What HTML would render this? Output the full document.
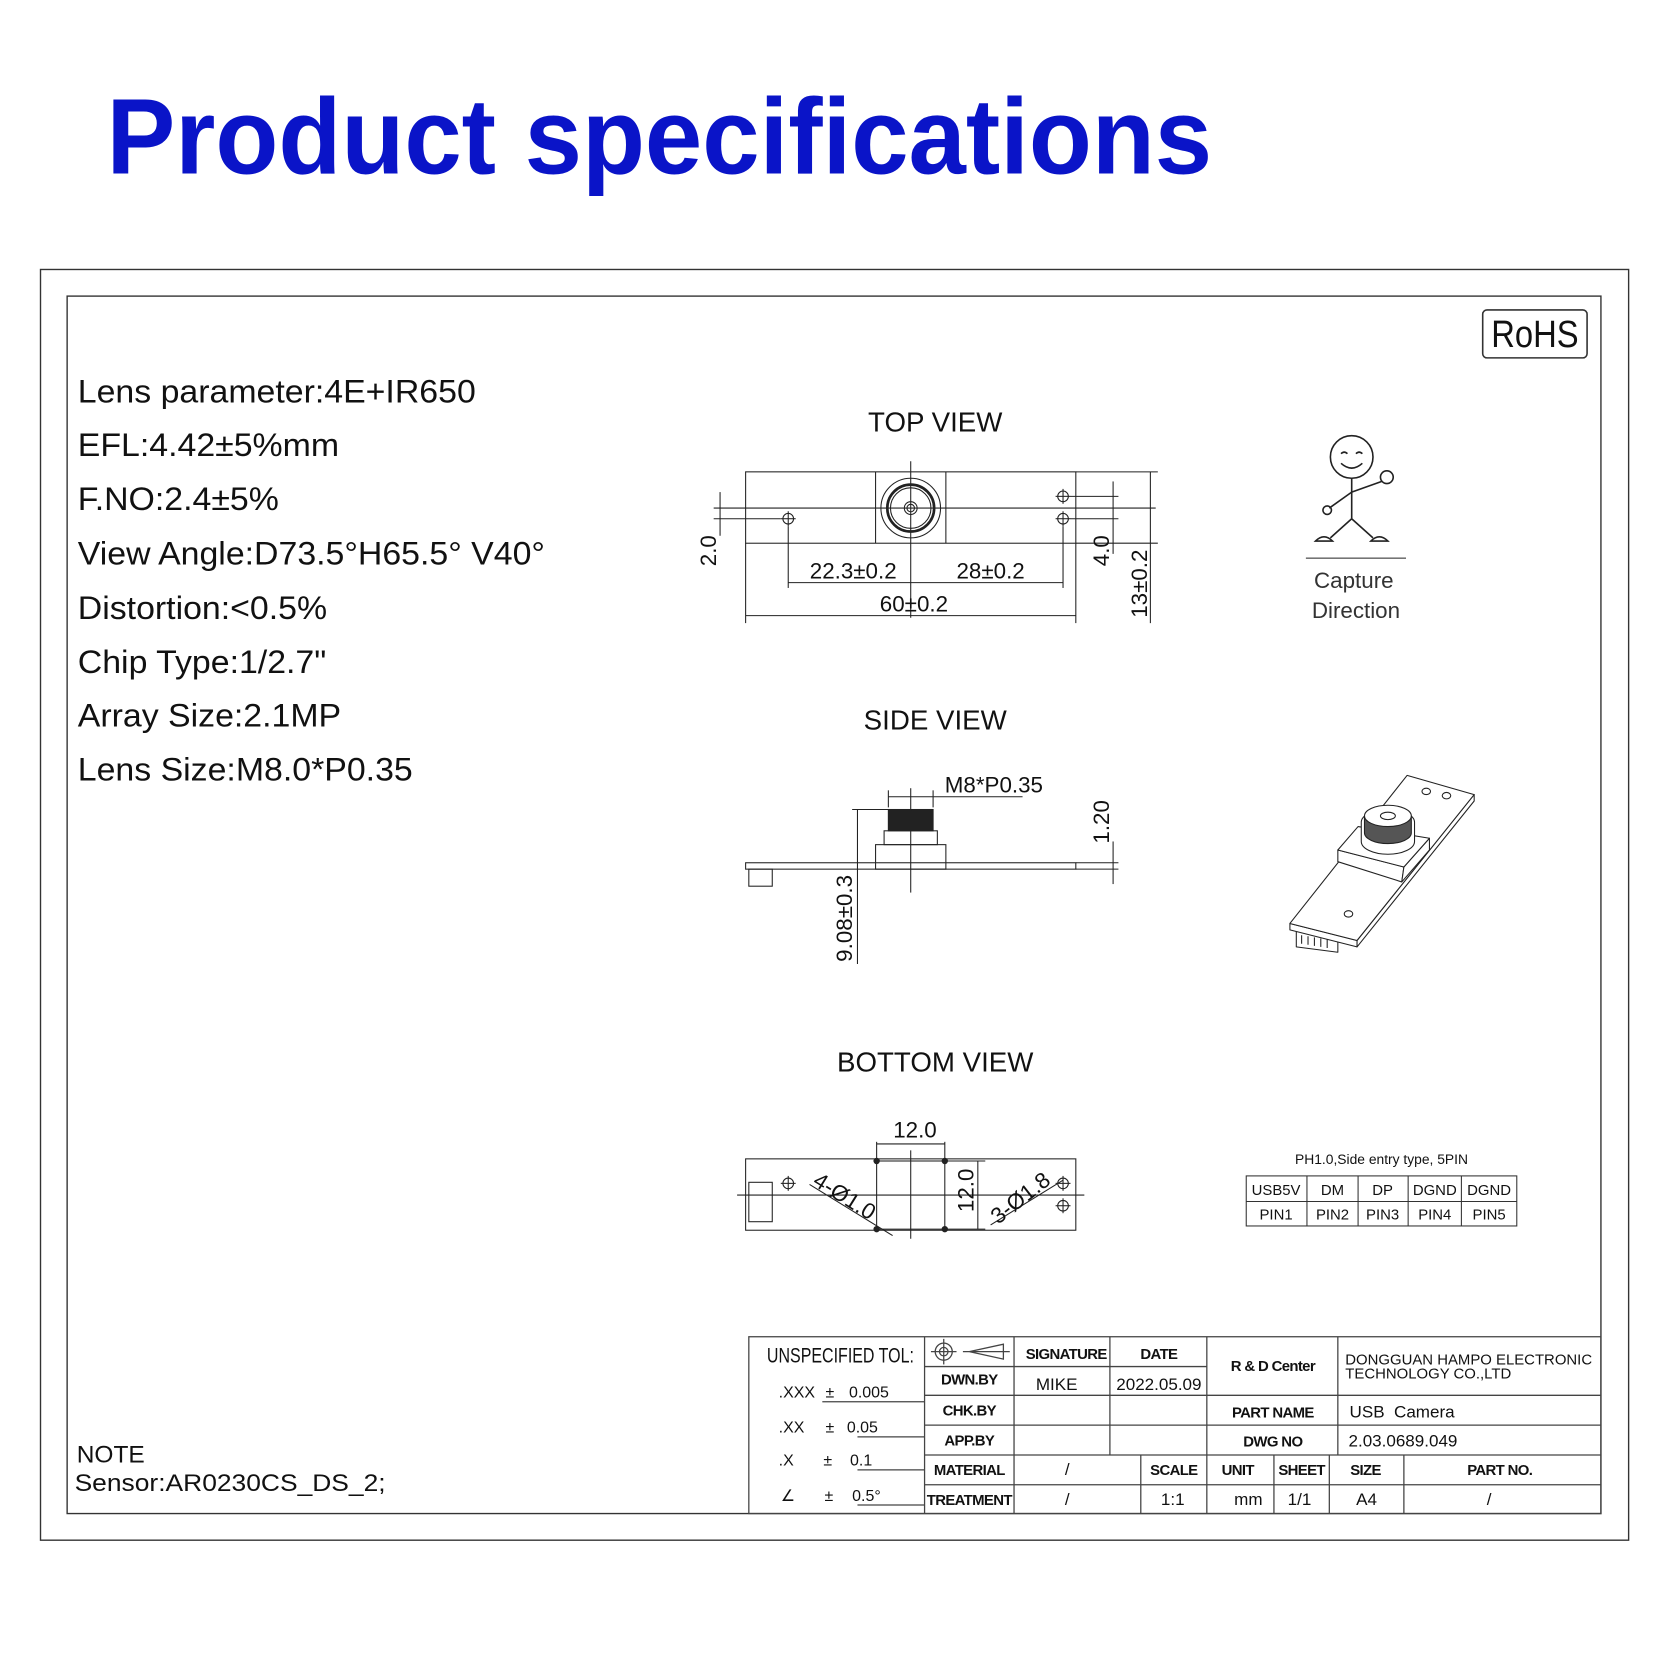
<!DOCTYPE html>
<html><head><meta charset="utf-8"><style>
html,body{margin:0;padding:0;background:#fff;}
svg{display:block;}
text{font-family:"Liberation Sans",sans-serif;fill:#111;}
</style></head><body>
<svg width="1667" height="1668" viewBox="0 0 1565 1566" xmlns="http://www.w3.org/2000/svg">
<rect width="1565" height="1566" fill="#fff"/>
<text x="100" y="163" font-size="101" font-weight="bold" style="fill:#0a14c8" textLength="1038" lengthAdjust="spacingAndGlyphs">Product specifications</text>

<g fill="none" stroke="#333" stroke-width="1.3">
<rect x="38" y="253" width="1491" height="1193"/>
<rect x="63" y="278" width="1440" height="1143"/>
<rect x="1392" y="291" width="98" height="45" rx="4" stroke-width="1.5"/>
</g>
<text x="1441" y="326" font-size="36" text-anchor="middle" textLength="82" lengthAdjust="spacingAndGlyphs">RoHS</text>

<g font-size="30" transform="translate(73 0) scale(1.06 1) translate(-73 0)">
<text x="73" y="378">Lens parameter:4E+IR650</text>
<text x="73" y="428">EFL:4.42±5%mm</text>
<text x="73" y="479">F.NO:2.4±5%</text>
<text x="73" y="530">View Angle:D73.5°H65.5° V40°</text>
<text x="73" y="581">Distortion:&lt;0.5%</text>
<text x="73" y="632">Chip Type:1/2.7"</text>
<text x="73" y="682">Array Size:2.1MP</text>
<text x="73" y="733">Lens Size:M8.0*P0.35</text>
</g>

<g font-size="26" text-anchor="middle">
<text x="878" y="405">TOP VIEW</text>
<text x="878" y="685">SIDE VIEW</text>
<text x="878" y="1006">BOTTOM VIEW</text>
</g>

<!-- TOP VIEW -->
<g fill="none" stroke="#222" stroke-width="1">
<rect x="700" y="443" width="310" height="67"/>
<line x1="822" y1="443" x2="822" y2="510"/><line x1="888" y1="443" x2="888" y2="510"/>
<circle cx="855" cy="477" r="28"/><circle cx="855" cy="477" r="22" stroke-width="2.5"/><circle cx="855" cy="477" r="19"/>
<circle cx="855" cy="477" r="6"/><circle cx="855" cy="477" r="3.5"/>
<line x1="670" y1="477" x2="1085" y2="477"/>
<line x1="855" y1="433" x2="855" y2="580"/>
<circle cx="740" cy="487" r="5"/><line x1="733" y1="487" x2="747" y2="487"/><line x1="740" y1="480" x2="740" y2="494"/>
<circle cx="998" cy="466" r="5"/><line x1="991" y1="466" x2="1005" y2="466"/><line x1="998" y1="459" x2="998" y2="473"/>
<circle cx="998" cy="487" r="5"/><line x1="991" y1="487" x2="1005" y2="487"/><line x1="998" y1="480" x2="998" y2="494"/>
<line x1="670" y1="487" x2="733" y2="487"/>
<line x1="676" y1="462" x2="676" y2="503"/>
<line x1="740" y1="494" x2="740" y2="552"/><line x1="998" y1="494" x2="998" y2="552"/>
<line x1="740" y1="547" x2="998" y2="547"/>
<line x1="700" y1="510" x2="700" y2="585"/><line x1="1010" y1="510" x2="1010" y2="585"/>
<line x1="700" y1="578" x2="1010" y2="578"/>
<line x1="1005" y1="466" x2="1050" y2="466"/><line x1="1005" y1="487" x2="1050" y2="487"/>
<line x1="1045" y1="452" x2="1045" y2="520"/>
<line x1="1010" y1="443" x2="1087" y2="443"/><line x1="1010" y1="510" x2="1087" y2="510"/>
<line x1="1080" y1="443" x2="1080" y2="585"/>
</g>
<g font-size="21" text-anchor="middle">
<text x="801" y="543">22.3±0.2</text><text x="930" y="543">28±0.2</text><text x="858" y="574">60±0.2</text>
<text transform="translate(672,517) rotate(-90)">2.0</text>
<text transform="translate(1041,517) rotate(-90)">4.0</text>
<text transform="translate(1077,548) rotate(-90)">13±0.2</text>
</g>

<!-- stick figure -->
<g fill="none" stroke="#222" stroke-width="1.5">
<circle cx="1269" cy="429" r="20"/>
<path d="M1259 426 q3 -3 6 0 M1273 426 q3 -3 6 0 M1259 435 q10 9 20 0"/>
<line x1="1269" y1="449" x2="1269" y2="487"/>
<line x1="1269" y1="487" x2="1249" y2="505"/><line x1="1269" y1="487" x2="1289" y2="505"/>
<line x1="1269" y1="462" x2="1297" y2="452"/><line x1="1269" y1="462" x2="1248" y2="477"/>
<circle cx="1302" cy="448" r="6"/><circle cx="1246" cy="479" r="4"/>
<path d="M1235 508 q8 -8 16 0 z M1287 508 q8 -8 16 0 z"/>
<line x1="1226" y1="524" x2="1320" y2="524" stroke-width="1"/>
</g>
<g font-size="21" text-anchor="middle"><text x="1271" y="552" style="fill:#333">Capture</text><text x="1273" y="580" style="fill:#333">Direction</text></g>

<!-- SIDE VIEW -->
<g fill="none" stroke="#222" stroke-width="1">
<rect x="700" y="810" width="310" height="6"/>
<rect x="703" y="816" width="22" height="16"/>
<rect x="822" y="793" width="66" height="23"/>
<rect x="830" y="780" width="50" height="13"/>
<rect x="834" y="760" width="42" height="20" fill="#222"/>
<line x1="855" y1="740" x2="855" y2="838"/>
<line x1="834" y1="742" x2="834" y2="758"/><line x1="876" y1="742" x2="876" y2="758"/>
<line x1="834" y1="748" x2="960" y2="748"/>
<line x1="800" y1="760" x2="834" y2="760"/>
<line x1="805" y1="760" x2="805" y2="905"/>
<line x1="1010" y1="810" x2="1050" y2="810"/><line x1="1010" y1="816" x2="1050" y2="816"/>
<line x1="1045" y1="790" x2="1045" y2="830"/>
</g>
<text x="887" y="744" font-size="21">M8*P0.35</text>
<text transform="translate(1041,792) rotate(-90)" font-size="21">1.20</text>
<text transform="translate(800,903) rotate(-90)" font-size="21">9.08±0.3</text>

<!-- 3D view -->
<g fill="#fff" stroke="#222" stroke-width="1" stroke-linejoin="round">
<polygon points="1217,874 1256,879 1256,894 1217,889"/>
<path d="M1222 878 l0 8 M1228 879 l0 8 M1234 880 l0 8 M1240 881 l0 8 M1246 882 l0 8" fill="none"/>
<polygon points="1384,746 1384,752 1274,889 1274,883"/>
<polygon points="1211,867 1211,873 1274,889 1274,883"/>
<polygon points="1321,728 1384,746 1274,883 1211,867"/>
<ellipse cx="1339" cy="743" rx="4" ry="3"/><ellipse cx="1358" cy="747" rx="4" ry="3"/>
<ellipse cx="1266" cy="858" rx="4" ry="3"/>
<polygon points="1256,798 1256,809 1316,828 1318,814"/>
<polygon points="1318,814 1316,828 1342,798 1342,787"/>
<polygon points="1256,798 1275,776 1342,787 1318,814"/>
<path d="M1278 790 L1278 772 A25 12 0 0 1 1328 772 L1328 790 A25 12 0 0 1 1278 790 Z"/>
<path d="M1281 766 L1281 782 A22 10 0 0 0 1325 782 L1325 766" fill="#555"/>
<ellipse cx="1303" cy="766" rx="22" ry="10"/>
<ellipse cx="1303" cy="766" rx="7" ry="3.5"/>
</g>

<!-- BOTTOM VIEW -->
<g fill="none" stroke="#222" stroke-width="1">
<rect x="700" y="1088" width="310" height="67"/>
<rect x="823" y="1090" width="64" height="64"/>
<circle cx="823" cy="1090" r="2.5" fill="#222"/><circle cx="887" cy="1090" r="2.5" fill="#222"/>
<circle cx="823" cy="1154" r="2.5" fill="#222"/><circle cx="887" cy="1154" r="2.5" fill="#222"/>
<line x1="855" y1="1080" x2="855" y2="1163"/>
<line x1="692" y1="1122" x2="1018" y2="1122"/>
<rect x="703" y="1110" width="22" height="37"/>
<circle cx="740" cy="1111" r="5"/><line x1="733" y1="1111" x2="747" y2="1111"/><line x1="740" y1="1104" x2="740" y2="1118"/>
<circle cx="998" cy="1111" r="5"/><line x1="991" y1="1111" x2="1005" y2="1111"/><line x1="998" y1="1104" x2="998" y2="1118"/>
<circle cx="998" cy="1132" r="5"/><line x1="991" y1="1132" x2="1005" y2="1132"/><line x1="998" y1="1125" x2="998" y2="1139"/>
<line x1="823" y1="1072" x2="823" y2="1088"/><line x1="887" y1="1072" x2="887" y2="1088"/>
<line x1="823" y1="1074" x2="887" y2="1074"/>
<line x1="887" y1="1090" x2="925" y2="1090"/><line x1="887" y1="1154" x2="925" y2="1154"/>
<line x1="918" y1="1090" x2="918" y2="1154"/>
<line x1="760" y1="1112" x2="838" y2="1160"/>
<line x1="930" y1="1150" x2="998" y2="1108"/>
</g>
<text x="859" y="1068" font-size="21" text-anchor="middle">12.0</text>
<text transform="translate(914,1138) rotate(-90)" font-size="21">12.0</text>
<text transform="translate(762,1112) rotate(32)" font-size="21">4-Ø1.0</text>
<text transform="translate(937,1150) rotate(-38)" font-size="21">3-Ø1.8</text>

<!-- pin table -->
<text x="1297" y="1093" font-size="13" text-anchor="middle">PH1.0,Side entry type, 5PIN</text>
<g fill="none" stroke="#333" stroke-width="1">
<rect x="1170" y="1104" width="254" height="47"/>
<line x1="1170" y1="1128" x2="1424" y2="1128"/>
<line x1="1227" y1="1104" x2="1227" y2="1151"/><line x1="1275" y1="1104" x2="1275" y2="1151"/>
<line x1="1322" y1="1104" x2="1322" y2="1151"/><line x1="1372" y1="1104" x2="1372" y2="1151"/>
</g>
<g font-size="14" text-anchor="middle">
<text x="1198" y="1122">USB5V</text><text x="1251" y="1122">DM</text><text x="1298" y="1122">DP</text><text x="1347" y="1122">DGND</text><text x="1398" y="1122">DGND</text>
<text x="1198" y="1145">PIN1</text><text x="1251" y="1145">PIN2</text><text x="1298" y="1145">PIN3</text><text x="1347" y="1145">PIN4</text><text x="1398" y="1145">PIN5</text>
</g>

<!-- NOTE -->
<text x="72" y="1373" font-size="23">NOTE</text>
<text x="70" y="1400" font-size="23" textLength="292" lengthAdjust="spacingAndGlyphs">Sensor:AR0230CS_DS_2;</text>

<!-- title block -->
<g fill="none" stroke="#444" stroke-width="1.2">
<rect x="703" y="1255" width="800" height="166"/>
<line x1="868" y1="1255" x2="868" y2="1421"/>
<line x1="952" y1="1255" x2="952" y2="1421"/>
<line x1="1042" y1="1255" x2="1042" y2="1366"/>
<line x1="1133" y1="1255" x2="1133" y2="1366"/>
<line x1="1256" y1="1255" x2="1256" y2="1366"/>
<line x1="868" y1="1283" x2="1133" y2="1283"/>
<line x1="868" y1="1310" x2="1503" y2="1310"/>
<line x1="868" y1="1338" x2="1503" y2="1338"/>
<line x1="868" y1="1366" x2="1503" y2="1366"/>
<line x1="868" y1="1394" x2="1503" y2="1394"/>
<line x1="1071" y1="1366" x2="1071" y2="1421"/>
<line x1="1133" y1="1366" x2="1133" y2="1421"/>
<line x1="1196" y1="1366" x2="1196" y2="1421"/>
<line x1="1248" y1="1366" x2="1248" y2="1421"/>
<line x1="1318" y1="1366" x2="1318" y2="1421"/>
<line x1="772" y1="1316" x2="868" y2="1316"/>
<line x1="805" y1="1349" x2="868" y2="1349"/>
<line x1="805" y1="1380" x2="868" y2="1380"/>
<line x1="805" y1="1413" x2="868" y2="1413"/>
<circle cx="886" cy="1269" r="8"/><circle cx="886" cy="1269" r="4"/>
<line x1="874" y1="1269" x2="898" y2="1269"/><line x1="886" y1="1257" x2="886" y2="1281"/>
<path d="M910 1269 L942 1262 L942 1276 Z M904 1269 L948 1269" />
</g>
<text x="720" y="1279" font-size="20" textLength="138" lengthAdjust="spacingAndGlyphs">UNSPECIFIED TOL:</text>
<g font-size="15">
<text x="731" y="1312">.XXX</text><text x="775" y="1312">±</text><text x="797" y="1312">0.005</text>
<text x="731" y="1345">.XX</text><text x="775" y="1345">±</text><text x="795" y="1345">0.05</text>
<text x="731" y="1376">.X</text><text x="773" y="1376">±</text><text x="798" y="1376">0.1</text>
<text x="733" y="1409">∠</text><text x="774" y="1409">±</text><text x="800" y="1409">0.5°</text>
</g>
<g font-size="14" font-weight="bold" text-anchor="middle" letter-spacing="-0.6">
<text x="1001" y="1276">SIGNATURE</text><text x="1088" y="1276">DATE</text>
<text x="1195" y="1287">R &amp; D Center</text>
<text x="910" y="1300">DWN.BY</text><text x="910" y="1329">CHK.BY</text><text x="910" y="1357">APP.BY</text>
<text x="910" y="1385">MATERIAL</text><text x="910" y="1413">TREATMENT</text>
<text x="1195" y="1331">PART NAME</text><text x="1195" y="1358">DWG NO</text>
<text x="1102" y="1385">SCALE</text><text x="1162" y="1385">UNIT</text><text x="1222" y="1385">SHEET</text>
<text x="1282" y="1385">SIZE</text><text x="1408" y="1385">PART NO.</text>
</g>
<g font-size="16" text-anchor="middle">
<text x="992" y="1305">MIKE</text><text x="1088" y="1305">2022.05.09</text>
<text x="1002" y="1385">/</text><text x="1002" y="1413">/</text>
<text x="1101" y="1413">1:1</text><text x="1172" y="1413">mm</text><text x="1220" y="1413">1/1</text>
<text x="1283" y="1413">A4</text><text x="1398" y="1413">/</text>
</g>
<text x="1263" y="1281" font-size="14">DONGGUAN HAMPO ELECTRONIC</text>
<text x="1263" y="1294" font-size="14">TECHNOLOGY CO.,LTD</text>
<text x="1267" y="1331" font-size="16" xml:space="preserve">USB  Camera</text>
<text x="1266" y="1358" font-size="16">2.03.0689.049</text>
</svg>
</body></html>
